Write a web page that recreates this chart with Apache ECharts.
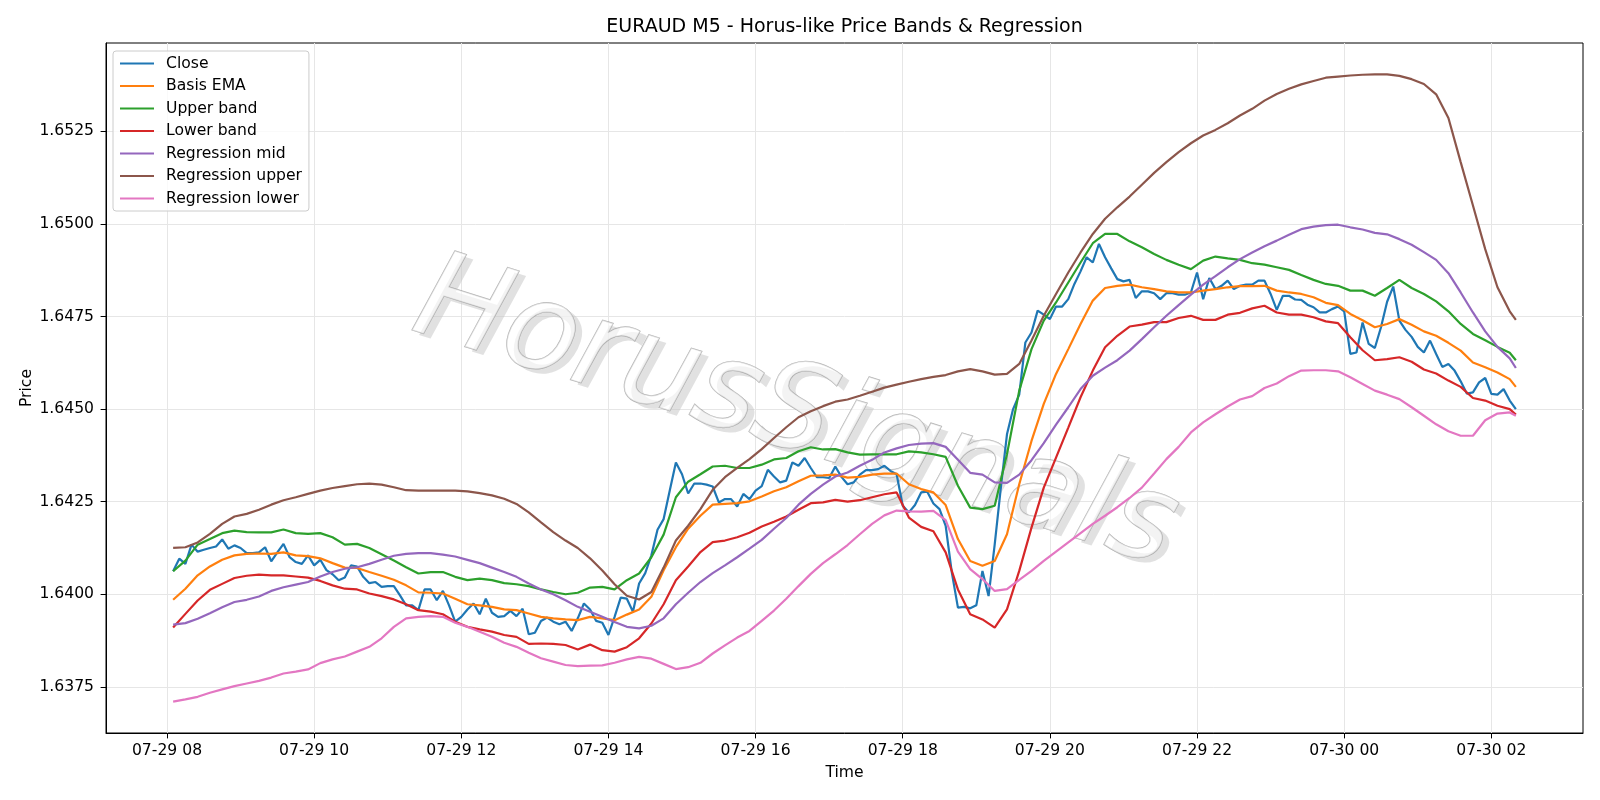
<!DOCTYPE html>
<html><head><meta charset="utf-8">
<script src="https://cdn.jsdelivr.net/npm/echarts@6/dist/echarts.min.js"></script>
<style>html,body{margin:0;padding:0;background:#fff}#c{width:1600px;height:800px}</style>
</head><body><div id="c"></div>
<script>
// ---- time index (hours since 07-29 00:00) ----
const startHour = 8 + 5 / 60;      // 07-29 08:05
const closeStepMin = 5;
const bandStepMin = 10;
const bandLastHour = 26 + 20 / 60; // 07-30 02:20

const seriesNames = ['Close', 'Basis EMA', 'Upper band', 'Lower band', 'Regression mid', 'Regression upper', 'Regression lower'];

const closeValues = [
  1.64062,1.64096,1.64082,1.64134,1.64115,1.64120,1.64125,1.64129,1.64148,1.64123,1.64132,1.64125,1.64111,1.64111,1.64113,1.64127,1.64089,1.64113,1.64136,1.64100,1.64087,
  1.64082,1.64105,1.64078,1.64093,1.64065,1.64054,1.64038,1.64045,1.64078,1.64075,1.64047,1.64030,1.64033,1.64020,1.64022,1.64022,1.63997,1.63970,1.63970,1.63957,1.64013,1.64013,1.63984,
  1.64009,1.63970,1.63926,1.63939,1.63959,1.63975,1.63946,1.63988,1.63950,1.63939,1.63941,1.63955,1.63941,1.63961,1.63892,1.63896,1.63928,1.63937,1.63926,1.63919,1.63926,1.63901,
  1.63935,1.63975,1.63959,1.63928,1.63923,1.63890,1.63939,1.63991,1.63988,1.63953,1.64029,1.64057,1.64105,1.64174,1.64203,1.64280,1.64356,1.64324,1.64272,1.64299,1.64299,1.64296,
  1.64291,1.64248,1.64257,1.64257,1.64237,1.64271,1.64257,1.64280,1.64292,1.64336,1.64318,1.64302,1.64307,1.64356,1.64347,1.64368,1.64341,1.64316,1.64316,1.64314,1.64345,1.64317,
  1.64297,1.64302,1.64323,1.64335,1.64335,1.64338,1.64347,1.64333,1.64324,1.64239,1.64221,1.64241,1.64275,1.64277,1.64245,1.64230,1.64185,1.64059,1.63964,1.63966,1.63962,1.63970,
  1.64063,1.63995,1.64135,1.64288,1.64432,1.64500,1.64539,1.64680,1.64707,1.64766,1.64755,1.64743,1.64777,1.64777,1.64797,1.64838,1.64872,1.64910,1.64896,1.64946,1.64910,1.64880,1.64851,
  1.64845,1.64849,1.64800,1.64818,1.64818,1.64813,1.64797,1.64813,1.64813,1.64809,1.64809,1.64815,1.64869,1.64797,1.64854,1.64824,1.64833,1.64847,1.64824,1.64833,1.64836,1.64836,
  1.64847,1.64847,1.64811,1.64768,1.64806,1.64806,1.64796,1.64795,1.64782,1.64775,1.64761,1.64761,1.64770,1.64777,1.64764,1.64649,1.64653,1.64734,1.64676,1.64665,1.64721,1.64790,
  1.64831,1.64739,1.64714,1.64695,1.64668,1.64653,1.64685,1.64649,1.64614,1.64622,1.64604,1.64575,1.64542,1.64545,1.64572,1.64584,1.64541,1.64539,1.64554,1.64523,1.64500
];

const basisEma = [
  1.63985,1.64015,1.64051,1.64075,1.64093,1.64105,1.64109,1.64110,1.64109,1.64113,1.64105,
  1.64103,1.64097,1.64084,1.64072,1.64071,1.64060,1.64050,1.64039,1.64024,1.64005,1.64004,
  1.64002,1.63988,1.63973,1.63970,1.63966,1.63959,1.63957,1.63948,1.63939,1.63935,1.63932,
  1.63930,1.63939,1.63935,1.63930,1.63945,1.63959,1.63993,1.64065,1.64127,1.64177,1.64212,
  1.64242,1.64244,1.64246,1.64251,1.64264,1.64278,1.64289,1.64305,1.64320,1.64321,1.64323,
  1.64315,1.64317,1.64323,1.64326,1.64326,1.64297,1.64284,1.64275,1.64241,1.64149,1.64090,
  1.64077,1.64090,1.64162,1.64297,1.64414,1.64514,1.64595,1.64662,1.64730,1.64793,1.64827,1.64833,
  1.64836,1.64829,1.64824,1.64818,1.64815,1.64815,1.64820,1.64824,1.64829,1.64832,1.64832,
  1.64833,1.64820,1.64815,1.64811,1.64802,1.64787,1.64781,1.64757,1.64740,1.64721,1.64730,
  1.64743,1.64728,1.64710,1.64698,1.64679,1.64658,1.64626,1.64613,1.64599,1.64581,1.64560
];

const upperBand = [
  1.64062,1.64091,1.64134,1.64149,1.64165,1.64172,1.64168,1.64167,1.64167,1.64175,1.64165,
  1.64163,1.64165,1.64154,1.64134,1.64136,1.64125,1.64108,1.64091,1.64073,1.64056,1.64060,
  1.64060,1.64047,1.64038,1.64042,1.64038,1.64030,1.64027,1.64022,1.64013,1.64006,1.64000,
  1.64004,1.64018,1.64020,1.64013,1.64038,1.64056,1.64100,1.64161,1.64262,1.64304,1.64324,
  1.64345,1.64347,1.64341,1.64341,1.64350,1.64364,1.64368,1.64386,1.64397,1.64391,1.64392,
  1.64383,1.64377,1.64378,1.64378,1.64378,1.64386,1.64383,1.64378,1.64371,1.64293,1.64234,
  1.64230,1.64239,1.64378,1.64550,1.64662,1.64739,1.64788,1.64842,1.64896,1.64948,1.64973,1.64973,
  1.64953,1.64937,1.64919,1.64903,1.64890,1.64878,1.64901,1.64912,1.64907,1.64903,1.64894,
  1.64890,1.64883,1.64876,1.64862,1.64849,1.64838,1.64833,1.64820,1.64820,1.64806,1.64827,
  1.64849,1.64827,1.64811,1.64791,1.64764,1.64730,1.64703,1.64686,1.64668,1.64652,1.64632
];

const lowerBand = [
  1.63910,1.63947,1.63983,1.64012,1.64028,1.64044,1.64050,1.64053,1.64051,1.64051,1.64048,
  1.64045,1.64036,1.64024,1.64015,1.64013,1.64002,1.63995,1.63986,1.63973,1.63957,1.63953,
  1.63946,1.63926,1.63912,1.63905,1.63899,1.63890,1.63885,1.63866,1.63867,1.63866,1.63863,
  1.63851,1.63864,1.63849,1.63845,1.63857,1.63881,1.63921,1.63973,1.64038,1.64075,1.64114,
  1.64141,1.64145,1.64154,1.64166,1.64183,1.64196,1.64210,1.64228,1.64246,1.64248,1.64255,
  1.64250,1.64254,1.64262,1.64270,1.64275,1.64207,1.64182,1.64170,1.64113,1.64013,1.63946,
  1.63932,1.63910,1.63959,1.64063,1.64180,1.64288,1.64369,1.64450,1.64532,1.64604,1.64667,1.64698,
  1.64723,1.64728,1.64735,1.64735,1.64746,1.64752,1.64741,1.64741,1.64755,1.64760,1.64772,
  1.64779,1.64761,1.64755,1.64755,1.64748,1.64737,1.64732,1.64694,1.64659,1.64632,1.64635,
  1.64640,1.64628,1.64607,1.64596,1.64577,1.64560,1.64530,1.64523,1.64509,1.64500,1.64485
];

const regressionMid = [
  1.63918,1.63922,1.63934,1.63949,1.63965,1.63979,1.63985,1.63994,1.64009,1.64019,1.64026,
  1.64033,1.64048,1.64060,1.64069,1.64073,1.64082,1.64093,1.64104,1.64109,1.64111,1.64111,
  1.64107,1.64102,1.64093,1.64084,1.64072,1.64060,1.64047,1.64029,1.64013,1.64000,1.63984,
  1.63966,1.63953,1.63939,1.63925,1.63912,1.63908,1.63915,1.63935,1.63973,1.64004,1.64033,
  1.64057,1.64078,1.64100,1.64123,1.64147,1.64177,1.64206,1.64242,1.64271,1.64296,1.64318,
  1.64329,1.64347,1.64363,1.64383,1.64394,1.64403,1.64407,1.64408,1.64398,1.64363,1.64328,
  1.64323,1.64302,1.64301,1.64323,1.64362,1.64408,1.64458,1.64505,1.64554,1.64590,1.64612,1.64632,
  1.64658,1.64689,1.64721,1.64752,1.64781,1.64809,1.64836,1.64859,1.64883,1.64905,1.64923,
  1.64940,1.64955,1.64971,1.64986,1.64993,1.64997,1.64998,1.64991,1.64985,1.64976,1.64972,
  1.64959,1.64944,1.64924,1.64903,1.64867,1.64815,1.64761,1.64710,1.64668,1.64637,1.64611
];

const regressionUpper = [
  1.64125,1.64127,1.64140,1.64163,1.64190,1.64210,1.64217,1.64228,1.64242,1.64254,1.64262,
  1.64271,1.64280,1.64287,1.64292,1.64297,1.64299,1.64296,1.64289,1.64281,1.64280,1.64280,
  1.64280,1.64280,1.64278,1.64273,1.64267,1.64258,1.64244,1.64221,1.64194,1.64168,1.64145,
  1.64125,1.64097,1.64064,1.64027,1.63996,1.63986,1.64006,1.64072,1.64145,1.64185,1.64230,
  1.64282,1.64316,1.64341,1.64365,1.64392,1.64422,1.64451,1.64478,1.64494,1.64508,1.64520,
  1.64526,1.64536,1.64547,1.64558,1.64566,1.64574,1.64581,1.64587,1.64592,1.64602,1.64608,
  1.64602,1.64593,1.64595,1.64622,1.64685,1.64752,1.64811,1.64869,1.64923,1.64973,1.65014,1.65045,
  1.65074,1.65106,1.65138,1.65167,1.65194,1.65218,1.65239,1.65254,1.65272,1.65293,1.65311,
  1.65333,1.65351,1.65365,1.65377,1.65386,1.65395,1.65398,1.65401,1.65403,1.65404,1.65404,
  1.65400,1.65391,1.65378,1.65350,1.65286,1.65167,1.65050,1.64932,1.64829,1.64764,1.64741
];

const regressionLower = [
  1.63710,1.63716,1.63723,1.63734,1.63743,1.63752,1.63759,1.63766,1.63775,1.63786,1.63791,
  1.63797,1.63814,1.63824,1.63832,1.63845,1.63858,1.63881,1.63912,1.63935,1.63939,1.63941,
  1.63939,1.63923,1.63912,1.63899,1.63885,1.63869,1.63858,1.63842,1.63827,1.63818,1.63809,
  1.63806,1.63807,1.63808,1.63815,1.63824,1.63831,1.63826,1.63812,1.63798,1.63803,1.63815,
  1.63840,1.63862,1.63883,1.63901,1.63928,1.63956,1.63988,1.64022,1.64055,1.64084,1.64108,
  1.64133,1.64162,1.64190,1.64213,1.64226,1.64224,1.64223,1.64225,1.64200,1.64115,1.64068,
  1.64041,1.64009,1.64014,1.64039,1.64063,1.64090,1.64115,1.64140,1.64165,1.64190,1.64212,1.64235,
  1.64260,1.64288,1.64326,1.64365,1.64398,1.64437,1.64464,1.64486,1.64507,1.64526,1.64535,
  1.64557,1.64569,1.64589,1.64604,1.64605,1.64605,1.64602,1.64586,1.64568,1.64550,1.64539,
  1.64527,1.64505,1.64482,1.64459,1.64440,1.64428,1.64428,1.64470,1.64488,1.64491,1.64482
];

const xTickHours = [8, 10, 12, 14, 16, 18, 20, 22, 24, 26];
const xTickLabels = ['07-29 08','07-29 10','07-29 12','07-29 14','07-29 16','07-29 18','07-29 20','07-29 22','07-30 00','07-30 02'];
const yTicks = [1.6375, 1.6400, 1.6425, 1.6450, 1.6475, 1.6500, 1.6525];

// ---- build ----
const closeTimes = closeValues.map((_, i) => startHour + i * closeStepMin / 60);
const bandTimes = basisEma.map((_, i) => i === basisEma.length - 1 ? bandLastHour : startHour + i * bandStepMin / 60);
const pairs = (t, v) => v.map((y, i) => [t[i], y]);

const allVals = [].concat(closeValues, basisEma, upperBand, lowerBand, regressionMid, regressionUpper, regressionLower);
const vMin = Math.min.apply(null, allVals), vMax = Math.max.apply(null, allVals);
const yPad = (vMax - vMin) * 0.05;
const tMin = startHour, tMax = bandLastHour, xPad = (tMax - tMin) * 0.05;

const colors = ['#1f77b4', '#ff7f0e', '#2ca02c', '#d62728', '#9467bd', '#8c564b', '#e377c2'];
const dataSets = [
  pairs(closeTimes, closeValues), pairs(bandTimes, basisEma), pairs(bandTimes, upperBand),
  pairs(bandTimes, lowerBand), pairs(bandTimes, regressionMid), pairs(bandTimes, regressionUpper),
  pairs(bandTimes, regressionLower)
];

const FONT = 'DejaVu Sans';
const FS = 15.6;
const chart = echarts.init(document.getElementById('c'), null, { renderer: 'canvas' });
const wmCx = 795, wmCy = 417, wmRot = -17.4 * Math.PI / 180;

chart.setOption({
  animation: false,
  backgroundColor: '#ffffff',
  textStyle: { fontFamily: FONT },
  grid: { left: 106, right: 17, top: 43, bottom: 67, containLabel: false, outerBoundsMode: 'none',
          show: true, borderColor: '#000', borderWidth: 1, backgroundColor: 'transparent' },
  graphic: [
    { type: 'text', x: 844.5, y: 27.3, silent: true, z: 10,
      style: { text: 'EURAUD M5 - Horus-like Price Bands & Regression', fontFamily: FONT, fontSize: 19,
               fill: '#000', align: 'center', verticalAlign: 'middle' } },
    { type: 'text', x: wmCx + 7, y: wmCy + 5, rotation: wmRot, silent: true, z: 1,
      style: { text: 'HorusSignals', fontFamily: FONT, fontSize: 121, fontStyle: 'italic',
               fill: 'rgba(195,195,195,0.5)', align: 'center', verticalAlign: 'middle' } },
    { type: 'text', x: wmCx, y: wmCy, rotation: wmRot, silent: true, z: 1,
      style: { text: 'HorusSignals', fontFamily: FONT, fontSize: 121, fontStyle: 'italic',
               fill: 'rgba(255,255,255,0.6)', stroke: 'rgba(150,150,150,0.7)', lineWidth: 1.3,
               align: 'center', verticalAlign: 'middle' } }
  ],
  legend: {
    orient: 'vertical', left: 113, top: 51, padding: [4.5, 7, 4.5, 6],
    itemWidth: 34, itemHeight: 14, itemGap: 6.5,
    backgroundColor: 'rgba(255,255,255,0.8)', borderColor: '#cccccc', borderWidth: 1, borderRadius: 3,
    itemStyle: { opacity: 0, color: 'rgba(0,0,0,0)', borderWidth: 0 },
    textStyle: { fontFamily: FONT, fontSize: FS, color: '#000', padding: [0, 0, 0, 7] },
    data: seriesNames
  },
  xAxis: {
    type: 'value', min: tMin - xPad, max: tMax + xPad,
    name: 'Time', nameLocation: 'middle', nameGap: 32, nameMoveOverlap: false,
    nameTextStyle: { fontFamily: FONT, fontSize: FS, color: '#000' },
    axisLine: { show: true, onZero: false, lineStyle: { color: '#000', width: 1 } },
    axisTick: { show: true, length: 5.4, lineStyle: { color: '#000', width: 1 }, customValues: xTickHours },
    axisLabel: { customValues: xTickHours, color: '#000', fontFamily: FONT, fontSize: FS, margin: 10,
      formatter: v => { const i = xTickHours.findIndex(t => Math.abs(t - v) < 1e-6); return i >= 0 ? xTickLabels[i] : ''; } },
    splitLine: { show: true, lineStyle: { color: '#e6e6e6', width: 1 } }
  },
  yAxis: {
    type: 'value', scale: true, min: vMin - yPad, max: vMax + yPad,
    name: 'Price', nameLocation: 'middle', nameGap: 71, nameRotate: 90, nameMoveOverlap: false,
    nameTextStyle: { fontFamily: FONT, fontSize: FS, color: '#000' },
    axisLine: { show: true, onZero: false, lineStyle: { color: '#000', width: 1 } },
    axisTick: { show: true, length: 5.4, lineStyle: { color: '#000', width: 1 }, customValues: yTicks },
    axisLabel: { customValues: yTicks, color: '#000', fontFamily: FONT, fontSize: FS, margin: 12,
      formatter: v => v.toFixed(4) },
    splitLine: { show: true, lineStyle: { color: '#e6e6e6', width: 1 } }
  },
  series: seriesNames.map((n, k) => ({
    name: n, type: 'line', data: dataSets[k], symbol: 'none', showSymbol: false,
    color: colors[k], lineStyle: { color: colors[k], width: 2.2 }, z: 3 + k, silent: true
  }))
});
</script></body></html>
